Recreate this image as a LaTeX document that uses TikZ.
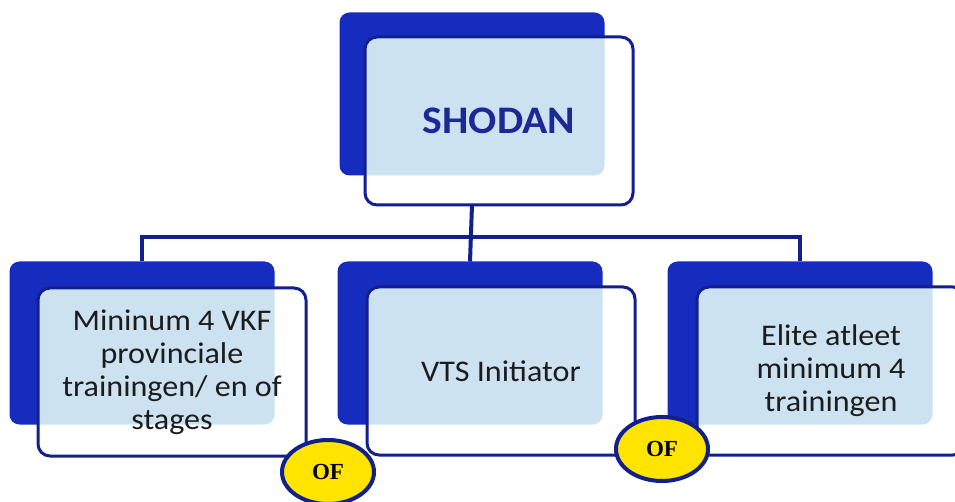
\documentclass[tikz,border=0pt]{standalone}
\usepackage{fontspec}
\setmainfont[FakeStretch=1.07]{Carlito}
\newfontfamily\ofont{Liberation Serif}
\usetikzlibrary{calc}
\usetikzlibrary{shapes.geometric}

\definecolor{backblue}{RGB}{22,44,190}
\definecolor{navy}{RGB}{18,32,140}
\definecolor{lightfill}{RGB}{204,226,240}
\definecolor{textgray}{RGB}{28,28,28}
\definecolor{titleblue}{RGB}{28,40,150}
\definecolor{ofyellow}{RGB}{255,228,0}

\tikzset{
    backbox/.style={fill=backblue, rounded corners=10pt, minimum width=265pt,
        minimum height=163pt, inner sep=0pt, outer sep=0pt},
    frontbox/.style={draw=navy, line width=3pt, rounded corners=12pt, fill=white,
        minimum width=268pt, minimum height=168pt, inner sep=0pt, outer sep=0pt,
        align=center, text=textgray, font=\fontsize{30}{33}\selectfont,
        path picture={\fill[lightfill, rounded corners=10pt] (#1.south west) rectangle (#1.north east);}},
    conn/.style={draw=navy, line width=4pt},
    orshape/.style={ellipse, draw=navy, line width=4pt, fill=ofyellow,
        minimum width=92pt, minimum height=64pt, inner sep=0pt,
        font=\ofont\bfseries\fontsize{23}{25}\selectfont}
}

\begin{document}
\begin{tikzpicture}[x=1pt, y=-1pt]
    \useasboundingbox (0,0) rectangle (955,502);

    \node[backbox] (topback) at (472,94) {};
    \node[frontbox=topback] (topfront) at ($(topback)+(27,27)$)
        {\textcolor{titleblue}{\fontsize{39}{42}\selectfont\bfseries SHODAN}};

    \node[backbox] (leftback) at (142,343) {};
    \node[frontbox=leftback] (leftfront) at ($(leftback)+(30,29)$)
        {Mininum 4 VKF\\provinciale\\trainingen/ en of\\stages};

    \node[backbox] (midback) at (470,343) {};
    \node[frontbox=midback] (midfront) at ($(midback)+(31,28)$) {VTS Initiator};

    \node[backbox] (rightback) at (800,343) {};
    \node[frontbox=rightback] (rightfront) at ($(rightback)+(31,28)$)
        {Elite atleet\\minimum 4\\trainingen};

    \coordinate (bus) at (0,237);
    \draw[conn] (topback |- topfront.south) -- (midback.north);
    \draw[conn] (leftback.north) -- (leftback.north |- bus) -- (rightback.north |- bus) -- (rightback.north);

    \node[orshape] (orleft) at (328,472) {OF};
    \node[orshape] (orright) at (662,449) {OF};
\end{tikzpicture}
\end{document}
